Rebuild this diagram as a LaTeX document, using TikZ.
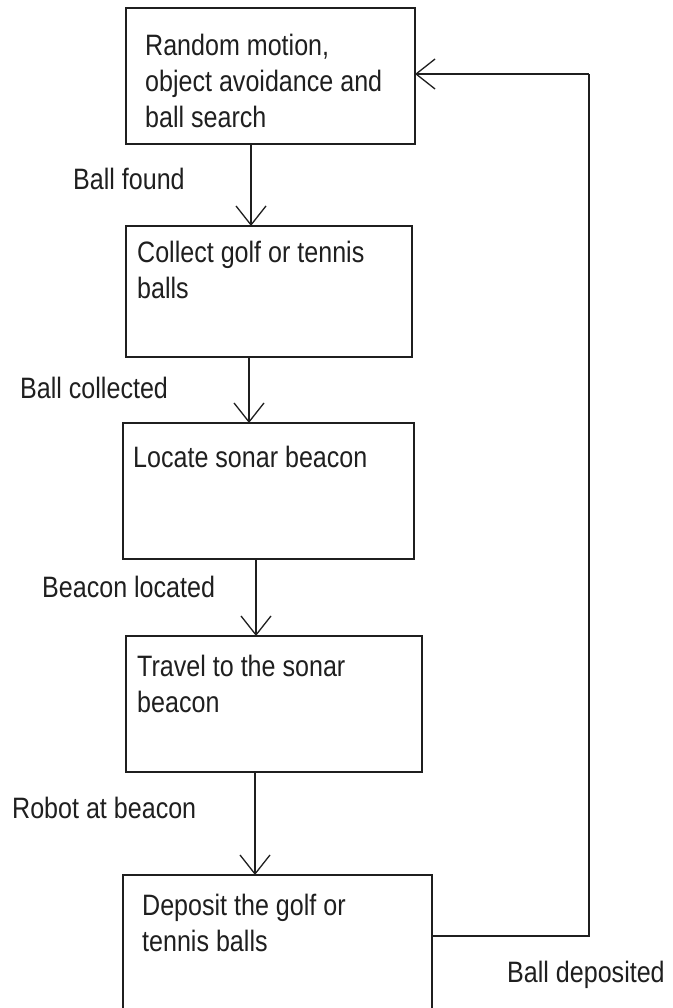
\documentclass[tikz,border=0pt]{standalone}
\usepackage{fontspec}
\setmainfont{Liberation Sans}[FakeStretch=0.85]
\usetikzlibrary{arrows.meta,calc}
\definecolor{ink}{gray}{0.12}
\begin{document}
\begin{tikzpicture}[x=1pt,y=-1pt,
  box/.style={draw=ink,line width=1.8pt,inner sep=0pt,outer sep=0pt},
  arr/.style={draw=ink,line width=1.8pt,-{Straight Barb[length=19pt,width=30pt,line width=1.3pt]}},
  feed/.style={draw=ink,line width=1.8pt},
  boxtext/.style={anchor=north west,inner sep=0pt,align=left,text=ink,font=\fontsize{29.5}{36}\selectfont},
  lbl/.style={anchor=base west,inner sep=0pt,text=ink,font=\fontsize{29.5}{36}\selectfont}]
\useasboundingbox (0,0) rectangle (672,1008);
\clip (0,0) rectangle (672,1008);
\fill[white] (0,0) rectangle (672,1008);

% boxes
\node[box,minimum width=289pt,minimum height=136pt] (b1) at (270.5,76) {};
\node[box,minimum width=286pt,minimum height=131pt] (b2) at (269,291.5) {};
\node[box,minimum width=291pt,minimum height=136pt] (b3) at (268.5,491) {};
\node[box,minimum width=296pt,minimum height=136pt] (b4) at (274,704) {};
\node[box,minimum width=309pt,minimum height=165pt] (b5) at (277.5,957.5) {};

% box texts
\node[boxtext] (t1) at (145,33.5) {Random motion,\\object avoidance and\\ball search};
\node[boxtext] (t2) at (137,240.5) {Collect golf or tennis\\balls};
\node[boxtext] (t3) at (133,445.5) {Locate sonar beacon};
\node[boxtext] (t4) at (137,654.5) {Travel to the sonar\\beacon};
\node[boxtext] (t5) at (142,893.5) {Deposit the golf or\\tennis balls};

% arrows between boxes
\coordinate (a1) at ([xshift=-19.5pt]b1.south);
\coordinate (a2) at ([xshift=-20pt]b2.south);
\coordinate (a3) at ([xshift=-12.5pt]b3.south);
\coordinate (a4) at ([xshift=-19pt]b4.south);
\draw[arr] (a1) -- (a1 |- b2.north);
\draw[arr] (a2) -- (a2 |- b3.north);
\draw[arr] (a3) -- (a3 |- b4.north);
\draw[arr] (a4) -- (a4 |- b5.north);

% feedback loop
\coordinate (fs) at ([yshift=-61pt]b5.north east);
\coordinate (fe) at ([yshift=2pt]b1.east);
\coordinate (rt) at (589,74);
\draw[feed] (fs) -| (rt);
\draw[arr] (rt) -- (fe);

% labels
\node[lbl] (l1) at (73,190) {Ball found};
\node[lbl] (l2) at (20,398) {Ball collected};
\node[lbl] (l3) at (42,597) {Beacon located};
\node[lbl] (l4) at (12,818) {Robot at beacon};
\node[lbl] (l5) at (507,982) {Ball deposited};
\end{tikzpicture}
\end{document}
